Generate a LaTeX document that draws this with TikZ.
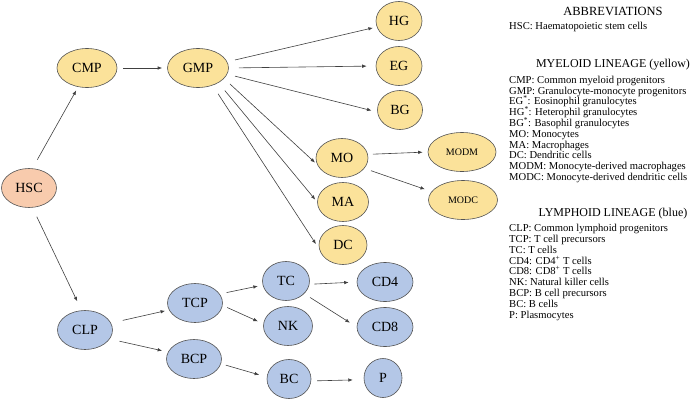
\documentclass[tikz,border=0pt]{standalone}
\usepackage{fontspec}
\setmainfont{Liberation Serif}
\usetikzlibrary{shapes.geometric,arrows.meta}

\definecolor{myelo}{HTML}{FBE29A}
\definecolor{lympho}{HTML}{B4C7E7}
\definecolor{stem}{HTML}{F8CBAD}
\definecolor{edge}{HTML}{404040}

\tikzset{
  cell/.style={ellipse, draw=edge!90, line width=0.6pt, inner sep=1pt,
    minimum height=39pt, font=\fontsize{14}{14}\selectfont},
  myel/.style={cell, fill=myelo},
  lymph/.style={cell, fill=lympho},
  small/.style={font=\fontsize{10}{10}\selectfont},
  arr/.style={draw=edge, line width=0.6pt, -{Latex[length=4.5pt,width=3.5pt]},
    shorten <=5pt, shorten >=5pt},
  legend/.style={anchor=base west, inner sep=0pt, text height=7.2pt, text depth=2pt,
    font=\fontsize{10.6}{10.6}\selectfont},
  heading/.style={anchor=base, inner sep=0pt, font=\fontsize{12}{12}\selectfont}
}

\begin{document}
\begin{tikzpicture}[x=1pt,y=-1pt]
  \useasboundingbox (0,0) rectangle (692,401);

  % stem cell
  \node[cell, fill=stem, minimum width=55pt] (HSC) at (29,188) {HSC};

  % myeloid lineage
  \node[myel, minimum width=60pt] (CMP) at (87,68) {CMP};
  \node[myel, minimum width=61pt] (GMP) at (198,68) {GMP};
  \node[myel, minimum width=46pt] (HG) at (399,21) {HG};
  \node[myel, minimum width=46pt] (EG) at (399,66) {EG};
  \node[myel, minimum width=45pt] (BG) at (400,110) {BG};
  \node[myel, minimum width=52pt] (MO) at (342,158) {MO};
  \node[myel, minimum width=51pt] (MA) at (343,202) {MA};
  \node[myel, minimum width=48pt] (DC) at (343,245) {DC};
  \node[myel, small, minimum width=68pt] (MODM) at (462,152) {MODM};
  \node[myel, small, minimum width=69pt] (MODC) at (463,200) {MODC};

  % lymphoid lineage
  \node[lymph, minimum width=55pt] (CLP) at (85,330) {CLP};
  \node[lymph, minimum width=55pt] (TCP) at (195,303) {TCP};
  \node[lymph, minimum width=55pt] (BCP) at (194,359) {BCP};
  \node[lymph, minimum width=47pt] (TC) at (286,281) {TC};
  \node[lymph, minimum width=49pt] (NK) at (288,326) {NK};
  \node[lymph, minimum width=44pt] (BC) at (289,379) {BC};
  \node[lymph, minimum width=56pt] (CD4) at (385,282) {CD4};
  \node[lymph, minimum width=56pt] (CD8) at (385,327) {CD8};
  \node[lymph, minimum width=38pt] (P) at (383,378) {P};

  \draw[arr, shorten <=10pt, shorten >=4pt] (HSC.80) -- (CMP.245);
  \draw[arr, shorten <=10pt, shorten >=10pt] (HSC.-80) -- (CLP.100);
  \draw[arr, shorten <=6pt] (CMP) -- (GMP);

  \draw[arr, shorten <=8pt, shorten >=4pt] (GMP.12) -- (HG.195);
  \draw[arr, shorten <=10pt, shorten >=9pt] (GMP.east) -- (EG.west);
  \draw[arr, shorten <=8pt, shorten >=6pt] (GMP.-12) -- (BG.185);
  \draw[arr, shorten <=8pt, shorten >=3pt] (GMP.-22) -- (MO.195);
  \draw[arr, shorten <=10pt, shorten >=3pt] (GMP.-36) -- (MA.180);
  \draw[arr, shorten <=10pt, shorten >=6pt] (GMP.-50) -- (DC.190);
  \draw[arr] (MO.8) -- (MODM.180);
  \draw[arr, shorten <=7pt, shorten >=7pt] (MO.-25) -- (MODC.165);

  \draw[arr, shorten <=12pt, shorten >=4pt] (CLP.15) -- (TCP.195);
  \draw[arr, shorten <=10pt, shorten >=6pt] (CLP.-20) -- (BCP.165);
  \draw[arr, shorten <=7pt] (TCP.20) -- (TC.190);
  \draw[arr, shorten >=6pt] (TCP.-5) -- (NK.175);
  \draw[arr, shorten >=8pt] (BCP.-10) -- (BC.175);
  \draw[arr, shorten >=8pt] (TC.-8) -- (CD4.west);
  \draw[arr, shorten <=7pt, shorten >=8pt] (TC.-35) -- (CD8.west);
  \draw[arr, shorten <=6pt, shorten >=11pt] (BC.-5) -- (P.185);

  % legend
  \node[heading, font=\fontsize{12.5}{12.5}\selectfont] (abbr) at (613,16) {ABBREVIATIONS};
  \node[legend] (hsc) at (509,30) {HSC: Haematopoietic stem cells};

  \node[heading] (myhead) at (613,68) {MYELOID LINEAGE (yellow)};
  \foreach \txt [count=\i from 0] in {CMP: Common myeloid progenitors,
      GMP: Granulocyte-monocyte progenitors,
      EG\textsuperscript{*}: Eosinophil granulocytes,
      HG\textsuperscript{*}: Heterophil granulocytes,
      BG\textsuperscript{*}: Basophil granulocytes,
      MO: Monocytes, MA: Macrophages, DC: Dendritic cells,
      MODM: Monocyte-derived macrophages,
      MODC: Monocyte-derived dendritic cells}
    \node[legend] (my\i) at (509,83.3+10.8*\i) {\txt};

  \node[heading] (lyhead) at (613,216.7) {LYMPHOID LINEAGE (blue)};
  \foreach \txt [count=\i from 0] in {CLP: Common lymphoid progenitors,
      TCP: T cell precursors, TC: T cells,
      CD4: CD4\textsuperscript{+} T cells,
      CD8: CD8\textsuperscript{+} T cells,
      NK: Natural killer cells, BCP: B cell precursors,
      BC: B cells, P: Plasmocytes}
    \node[legend] (ly\i) at (509,231.7+10.8*\i) {\txt};
  %\draw[red] (0,0) rectangle (692,401);
\end{tikzpicture}
\end{document}
